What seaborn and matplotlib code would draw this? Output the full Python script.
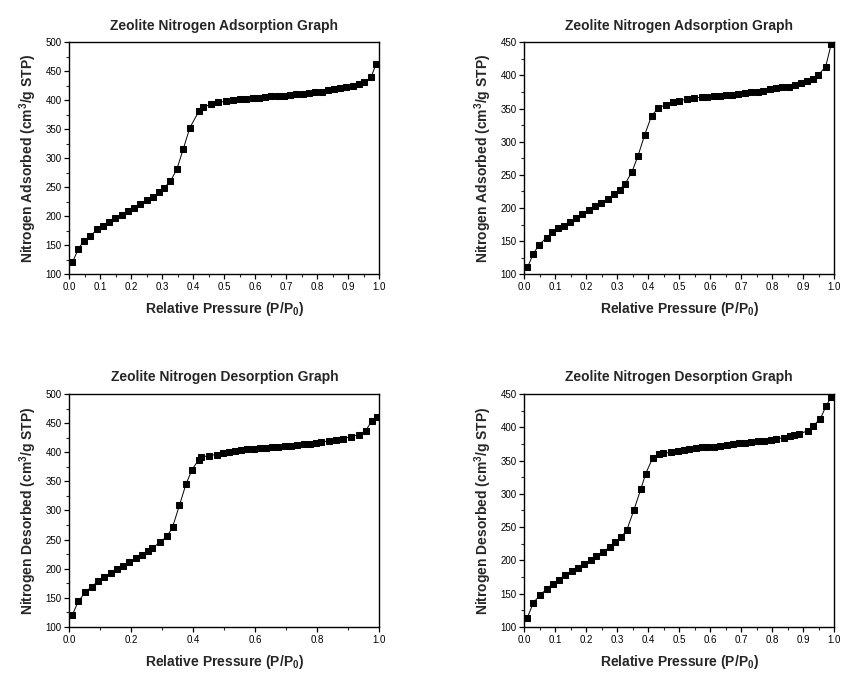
import numpy as np
import pandas as pd
import matplotlib
matplotlib.use("Agg")
import matplotlib.pyplot as plt
from matplotlib.ticker import MultipleLocator
import seaborn as sns

# Data
p_ads_1 = [0.010, 0.029, 0.047, 0.067, 0.090, 0.108, 0.128, 0.148, 0.169, 0.189,
           0.209, 0.229, 0.249, 0.270, 0.289, 0.305, 0.326, 0.347, 0.367, 0.389,
           0.418, 0.432, 0.456, 0.480, 0.505, 0.528, 0.549, 0.571, 0.591, 0.611,
           0.631, 0.652, 0.673, 0.692, 0.712, 0.730, 0.753, 0.772, 0.792, 0.814,
           0.833, 0.853, 0.873, 0.894, 0.914, 0.933, 0.951, 0.973, 0.990]
v_ads_1 = [120.7, 143.6, 157.9, 165.9, 177.3, 183.1, 190.5, 196.8, 202.5, 210.0,
           215.1, 221.4, 228.3, 234.0, 241.4, 248.9, 260.3, 281.5, 315.2, 353.0,
           381.0, 388.4, 393.0, 396.5, 398.2, 399.9, 401.6, 401.6, 403.3, 404.5,
           405.6, 406.8, 407.9, 407.9, 409.6, 410.2, 411.3, 412.5, 414.8, 414.8,
           417.0, 418.8, 421.0, 422.2, 424.5, 427.9, 430.8, 439.9, 462.8]

p_ads_2 = [0.010, 0.029, 0.047, 0.072, 0.091, 0.109, 0.128, 0.147, 0.167, 0.187,
           0.209, 0.229, 0.249, 0.270, 0.289, 0.308, 0.326, 0.348, 0.367, 0.389,
           0.411, 0.432, 0.456, 0.480, 0.501, 0.526, 0.548, 0.573, 0.590, 0.612,
           0.632, 0.652, 0.670, 0.691, 0.711, 0.731, 0.753, 0.772, 0.792, 0.813,
           0.833, 0.853, 0.873, 0.892, 0.913, 0.931, 0.948, 0.973, 0.991]
v_ads_2 = [110.3, 130.9, 144.0, 155.5, 163.1, 169.6, 173.6, 179.6, 185.7, 191.7,
           196.7, 202.3, 208.3, 214.3, 220.4, 227.9, 236.9, 255.0, 278.6, 310.8,
           339.4, 350.5, 356.0, 360.6, 362.1, 364.1, 366.1, 367.1, 368.1, 369.1,
           369.6, 371.1, 371.1, 372.6, 373.6, 375.6, 375.6, 377.1, 379.1, 380.7,
           382.2, 383.2, 385.7, 388.2, 391.2, 395.2, 400.2, 413.3, 447.5]

p_des_1 = [0.010, 0.029, 0.052, 0.072, 0.092, 0.113, 0.133, 0.154, 0.172, 0.194,
           0.214, 0.234, 0.255, 0.267, 0.291, 0.315, 0.333, 0.355, 0.376, 0.396,
           0.418, 0.425, 0.451, 0.476, 0.496, 0.514, 0.533, 0.554, 0.574, 0.595,
           0.614, 0.634, 0.654, 0.673, 0.695, 0.714, 0.733, 0.756, 0.775, 0.795,
           0.813, 0.839, 0.861, 0.882, 0.908, 0.934, 0.956, 0.977, 0.991]
v_des_1 = [121.1, 144.0, 160.0, 169.1, 178.3, 185.1, 192.0, 198.9, 204.0, 210.9,
           217.7, 222.9, 230.3, 234.9, 245.1, 255.4, 271.4, 308.6, 344.6, 370.3,
           387.4, 391.4, 394.3, 396.0, 399.4, 401.1, 402.3, 404.0, 405.1, 406.3,
           407.4, 408.0, 409.1, 409.7, 410.9, 411.4, 413.1, 414.3, 414.9, 416.0,
           417.7, 419.4, 421.1, 422.9, 426.9, 429.7, 437.1, 454.3, 461.1]

p_des_2 = [0.010, 0.029, 0.052, 0.072, 0.092, 0.112, 0.132, 0.153, 0.173, 0.194,
           0.215, 0.233, 0.254, 0.277, 0.292, 0.313, 0.331, 0.354, 0.376, 0.392,
           0.414, 0.434, 0.449, 0.475, 0.496, 0.514, 0.533, 0.553, 0.573, 0.591,
           0.614, 0.633, 0.654, 0.674, 0.694, 0.714, 0.731, 0.754, 0.774, 0.795,
           0.814, 0.837, 0.857, 0.871, 0.887, 0.915, 0.932, 0.956, 0.975, 0.991]
v_des_2 = [114.2, 136.2, 148.7, 156.7, 165.2, 171.2, 177.7, 184.2, 189.2, 195.2,
           200.8, 206.3, 213.3, 219.8, 227.3, 234.8, 245.8, 275.8, 306.9, 330.4,
           353.4, 359.4, 360.9, 362.4, 364.4, 366.4, 367.9, 368.9, 369.9, 370.4,
           370.9, 371.9, 372.9, 374.4, 375.9, 376.4, 377.4, 378.9, 379.9, 380.9,
           382.4, 384.4, 386.4, 388.4, 389.4, 395.0, 401.5, 413.0, 432.5, 446.0]

ADS_TITLE = "Zeolite Nitrogen Adsorption Graph"
DES_TITLE = "Zeolite Nitrogen Desorption Graph"
XLABEL = "Relative Pressure (P/P$_\\mathbf{0}$)"
YLABEL_ADS = "Nitrogen Adsorbed (cm$^\\mathbf{3}$/g STP)"
YLABEL_DES = "Nitrogen Desorbed (cm$^\\mathbf{3}$/g STP)"

sns.set_style("ticks")
plt.rcParams['font.family'] = ['Liberation Sans', 'DejaVu Sans']
plt.rcParams['mathtext.fontset'] = 'custom'
plt.rcParams['mathtext.rm'] = 'Liberation Sans'
plt.rcParams['mathtext.bf'] = 'Liberation Sans:bold'


def draw_panel(ax, p, v, title, ylabel, ymax, xmajor):
    df = pd.DataFrame({'p': p, 'v': v})
    sns.lineplot(data=df, x='p', y='v', ax=ax, color='black', linewidth=0.7,
                 marker='s', markersize=5, markeredgecolor='black', sort=False)
    ax.set_xlim(0, 1.0)
    ax.set_ylim(100, ymax)
    ax.xaxis.set_major_locator(MultipleLocator(xmajor))
    ax.xaxis.set_minor_locator(MultipleLocator(xmajor / 2))
    ax.yaxis.set_major_locator(MultipleLocator(50))
    ax.yaxis.set_minor_locator(MultipleLocator(25))
    ax.tick_params(which='major', direction='out', length=3.5, width=0.9,
                   labelsize=7, pad=2, colors='black')
    ax.tick_params(which='minor', direction='out', length=2.2, width=0.8)
    ax.xaxis.set_major_formatter(plt.FormatStrFormatter('%.1f'))
    for s in ax.spines.values():
        s.set_visible(True)
        s.set_linewidth(1.0)
        s.set_color('black')
    ax.set_title(title, fontsize=10, fontweight='bold', pad=9)
    ax.set_xlabel(XLABEL, fontsize=10, fontweight='bold', labelpad=6)
    ax.set_ylabel(ylabel, fontsize=10, fontweight='bold', labelpad=5)


fig = plt.figure(figsize=(8.57, 6.88), dpi=100)
ax1 = fig.add_axes([0.0809, 0.6013, 0.3617, 0.3372])
ax2 = fig.add_axes([0.6118, 0.6013, 0.3614, 0.3372])
ax3 = fig.add_axes([0.0809, 0.0887, 0.3617, 0.3387])
ax4 = fig.add_axes([0.6118, 0.0887, 0.3614, 0.3387])

draw_panel(ax1, p_ads_1, v_ads_1, ADS_TITLE, YLABEL_ADS, 500, 0.1)
draw_panel(ax2, p_ads_2, v_ads_2, ADS_TITLE, YLABEL_ADS, 450, 0.1)
draw_panel(ax3, p_des_1, v_des_1, DES_TITLE, YLABEL_DES, 500, 0.2)
draw_panel(ax4, p_des_2, v_des_2, DES_TITLE, YLABEL_DES, 450, 0.1)

fig.savefig("out.png", dpi=100, facecolor='white')
